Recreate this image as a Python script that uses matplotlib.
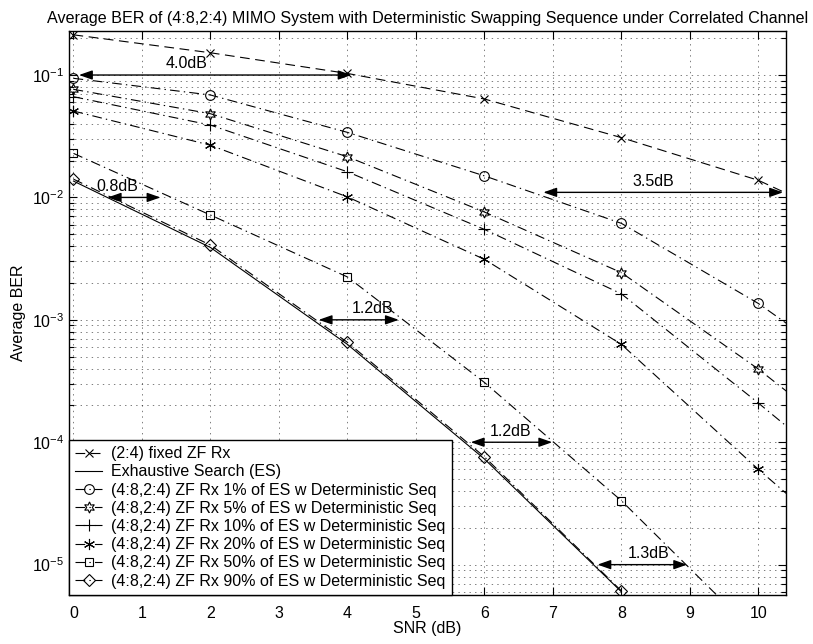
import matplotlib
matplotlib.use("Agg")
import matplotlib.pyplot as plt
from matplotlib.ticker import LogLocator, NullFormatter, MultipleLocator

plt.rcParams["font.family"] = ["Liberation Sans", "DejaVu Sans"]
plt.rcParams["mathtext.fontset"] = "custom"
plt.rcParams["mathtext.rm"] = "Liberation Sans"
plt.rcParams["mathtext.it"] = "Liberation Sans:italic"
plt.rcParams["mathtext.default"] = "regular"
plt.rcParams["lines.scale_dashes"] = False

# SNR 轴 (dB)，12 dB 的点只用于让曲线延伸到右边框
snr = [0, 2, 4, 6, 8, 10, 12]
snr_es = [0, 2, 4, 6, 8]

ber_fixed = [0.213, 0.152, 0.103, 0.0637, 0.0308, 0.0138, 0.0042]
ber_es = [0.0136, 0.0039, 0.00063, 7.3e-05, 6.0e-06]
ber_1 = [0.094, 0.0687, 0.034, 0.0150, 0.00614, 0.00136, 0.00022]
ber_5 = [0.0764, 0.0483, 0.0215, 0.0076, 0.00243, 0.000396, 5.2e-05]
ber_10 = [0.0665, 0.039, 0.0162, 0.00548, 0.00163, 0.000209, 2.5e-05]
ber_20 = [0.0508, 0.0267, 0.0101, 0.00312, 0.00063, 6.0e-05, 6.5e-06]
ber_50 = [0.0229, 0.00718, 0.00224, 0.000308, 3.33e-05, 2.6e-06, 2.0e-07]
ber_90 = [0.0141, 0.00408, 0.000655, 7.6e-05, 6.1e-06]

labels = [
    "(2:4) fixed ZF Rx",
    "Exhaustive Search (ES)",
    "(4:8,2:4) ZF Rx 1% of ES w Deterministic Seq",
    "(4:8,2:4) ZF Rx 5% of ES w Deterministic Seq",
    "(4:8,2:4) ZF Rx 10% of ES w Deterministic Seq",
    "(4:8,2:4) ZF Rx 20% of ES w Deterministic Seq",
    "(4:8,2:4) ZF Rx 50% of ES w Deterministic Seq",
    "(4:8,2:4) ZF Rx 90% of ES w Deterministic Seq",
]

# 增益标注: (文字, 文字位置, 起点 SNR, 终点 SNR, BER 高度)
gains = [
    ("4.0dB", 1.65, 0.08, 4.06, 0.1),
    ("0.8dB", 0.64, 0.5, 1.27, 0.01),
    ("3.5dB", 8.47, 6.86, 10.36, 0.011),
    ("1.2dB", 4.37, 3.58, 4.75, 0.001),
    ("1.2dB", 6.38, 5.8, 6.99, 0.0001),
    ("1.3dB", 8.4, 7.65, 8.96, 1e-05),
]

fs = 11.5

fig = plt.figure(figsize=(8.13, 6.44), dpi=100)
ax = fig.add_axes([0.0845, 0.0761, 0.882, 0.8758])

dashdot = (0, (7, 3, 1, 3))
dashed = (0, (7, 4))
lw = 0.8

ax.plot(snr, ber_fixed, color="k", lw=lw, linestyle=dashed, marker="x",
        markersize=6, markeredgewidth=0.8, label=labels[0])
ax.plot(snr_es, ber_es, color="k", lw=lw, linestyle="-", label=labels[1])
ax.plot(snr, ber_1, color="k", lw=lw, linestyle=dashdot, marker="o",
        markersize=7, markerfacecolor="none", markeredgewidth=0.8, label=labels[2])
ax.plot(snr, ber_5, color="k", lw=lw, linestyle=dashdot, marker=(6, 1, 0),
        markersize=8, markerfacecolor="none", markeredgewidth=0.8, label=labels[3])
ax.plot(snr, ber_10, color="k", lw=lw, linestyle=dashdot, marker="+",
        markersize=9, markeredgewidth=0.8, label=labels[4])
ax.plot(snr, ber_20, color="k", lw=lw, linestyle=dashdot, marker=(6, 2, 0),
        markersize=8, markeredgewidth=0.8, label=labels[5])
ax.plot(snr, ber_50, color="k", lw=lw, linestyle=dashdot, marker="s",
        markersize=6, markerfacecolor="none", markeredgewidth=0.8, label=labels[6])
ax.plot(snr_es, ber_90, color="k", lw=lw, linestyle=dashdot, marker="D",
        markersize=6, markerfacecolor="none", markeredgewidth=0.8, label=labels[7])

# 双向箭头标注
for txt, xt, x0, x1, yv in gains:
    ax.annotate("", xy=(x1, yv), xytext=(x0, yv),
                arrowprops=dict(arrowstyle="<|-|>,head_length=0.8,head_width=0.28",
                                color="k", lw=1, shrinkA=0, shrinkB=0))
    ax.text(xt, yv * 1.07, txt, ha="center", va="bottom", fontsize=fs)

ax.set_yscale("log")
ax.set_xlim(-0.07, 10.4)
ax.set_ylim(5.65e-6, 0.229)
ax.xaxis.set_major_locator(MultipleLocator(1))
ax.yaxis.set_major_locator(LogLocator(base=10, numticks=10))
ax.yaxis.set_minor_locator(LogLocator(base=10, subs=range(2, 10), numticks=20))
ax.yaxis.set_minor_formatter(NullFormatter())

ax.grid(True, which="major", linestyle=(0, (1, 3)), color="k", lw=0.6, alpha=0.6)
ax.grid(True, which="minor", axis="y", linestyle=(0, (1, 3)), color="k", lw=0.6, alpha=0.6)
ax.tick_params(which="both", direction="in", top=True, right=True, labelsize=fs)
ax.tick_params(axis="x", pad=8)
ax.tick_params(which="major", length=6, width=0.8)
ax.tick_params(which="minor", length=3.5, width=0.8)
for s in ax.spines.values():
    s.set_linewidth(1)

ax.set_title("Average BER of (4:8,2:4) MIMO System with Deterministic Swapping Sequence under Correlated Channel",
             fontsize=11.6, pad=6)
ax.set_xlabel("SNR (dB)", fontsize=fs, labelpad=0)
ax.set_ylabel("Average BER", fontsize=fs)

leg = ax.legend(loc="lower left", borderaxespad=0, fontsize=fs, fancybox=False,
                framealpha=1, edgecolor="k", handlelength=1.7, handletextpad=0.55,
                labelspacing=0.2, borderpad=0.4)
leg.get_frame().set_linewidth(1)

plt.savefig("out.png", dpi=100)
